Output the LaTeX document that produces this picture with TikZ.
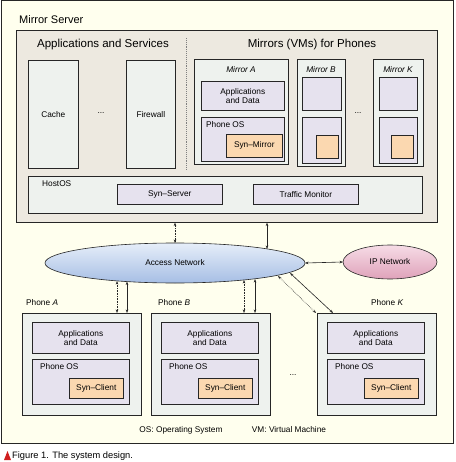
\documentclass[tikz,border=0pt]{standalone}
\usepackage{fontspec}
\setmainfont{Liberation Sans}
\usetikzlibrary{arrows.meta,shapes.geometric,calc}
\definecolor{bgyel}{HTML}{FFFFEE}
\definecolor{srvfill}{HTML}{EDE9E0}
\definecolor{boxfill}{HTML}{EEF2EE}
\definecolor{lav}{HTML}{E6E2EE}
\definecolor{peach}{HTML}{FBD8B0}
\definecolor{blueA}{HTML}{E6EEF9}
\definecolor{blueB}{HTML}{A6BEE4}
\definecolor{pinkA}{HTML}{F6DCE6}
\definecolor{pinkB}{HTML}{DFA2BA}
\definecolor{trired}{HTML}{D02020}
\tikzset{
  bx/.style={draw=black!85, line width=0.6pt, anchor=north west, inner sep=0pt, rectangle},
  gbox/.style={bx, fill=boxfill},
  lbox/.style={bx, fill=lav},
  sbox/.style={bx, fill=peach},
  small/.style={font=\fontsize{8.3}{9.5}\selectfont, inner sep=0pt},
  smalli/.style={font=\fontsize{8.3}{9.5}\selectfont\itshape, inner sep=0pt},
  big/.style={font=\fontsize{11.5}{13}\selectfont, inner sep=0pt},
  arr/.style={{Stealth[length=3.5pt,width=2.6pt]}-{Stealth[length=3.5pt,width=2.6pt]}, line width=0.6pt, black!85},
  darr/.style={arr, densely dotted},
}
\newcommand{\rbox}[6]{% style, name, x1, y1, x2, y2
  \node[#1, minimum width={(#5)-(#3)}, minimum height={(#6)-(#4)}] (#2) at (#3,#4) {};}
\begin{document}
\begin{tikzpicture}[x=1pt,y=-1pt]
\useasboundingbox (0,0) rectangle (455,462);
% outer frame
\node[bx, fill=bgyel, minimum width=452, minimum height=442] (outer) at (0.5,0.5) {};
\node[big, anchor=west, font=\fontsize{11}{13}\selectfont] (mstitle) at (19,20) {Mirror Server};
% server
\rbox{bx, fill=srvfill}{server}{16}{30}{437}{222}
\node[big] (appsvc) at (103,45) {Applications and Services};
\node[big] (mirtitle) at (312,45) {Mirrors (VMs) for Phones};
\draw[gray, line width=0.9pt, densely dotted] (186,38) -- (186,170);
% cache / firewall
\rbox{gbox}{cache}{28}{60}{78}{168}
\rbox{gbox}{fw}{126}{60}{175}{168}
\node[small] at (cache.center) {Cache};
\node[small] at (fw.center) {Firewall};
\node[small] (dots1) at (101,113) {...};
% Mirror A
\rbox{gbox}{mA}{194}{59}{288}{164}
\node[smalli] (mAl) at (241,70) {Mirror A};
\rbox{lbox}{mAapp}{201}{81}{284}{110}
\node[small, align=center] at (mAapp.center) {Applications\\and Data};
\rbox{lbox}{mAos}{201}{117}{284}{161}
\node[small, anchor=west] at (206,125) {Phone OS};
\rbox{sbox}{synm}{226}{134}{282}{157}
\node[small] at (synm.center) {Syn--Mirror};
% Mirror B
\rbox{gbox}{mB}{297}{59}{345}{166}
\node[smalli] (mBl) at (321,70) {Mirror B};
\rbox{lbox}{mBapp}{302}{77}{341}{110}
\rbox{lbox}{mBos}{302}{117}{341}{163}
\rbox{sbox}{mBs}{316}{135}{338}{158}
\node[small] (dots2) at (358,113) {...};
% Mirror K
\rbox{gbox}{mK}{373}{59}{423}{166}
\node[smalli] (mKl) at (398,70) {Mirror K};
\rbox{lbox}{mKapp}{379}{77}{417}{110}
\rbox{lbox}{mKos}{379}{117}{417}{163}
\rbox{sbox}{mKs}{391}{135}{413}{158}
% HostOS
\rbox{gbox}{host}{28}{176}{422}{213}
\node[small, anchor=west] at (42,184) {HostOS};
\rbox{lbox}{syns}{117}{184}{222}{204}
\node[small] at (syns.center) {Syn--Server};
\rbox{lbox}{tm}{253}{184}{358}{204}
\node[small] at (tm.center) {Traffic Monitor};
% networks
\node[ellipse, draw=black!85, line width=0.6pt, top color=blueA, bottom color=blueB, minimum width=260, minimum height=40, inner sep=0pt, outer sep=0pt] (acc) at (175,263) {};
\node[small] at (acc.center) {Access Network};
\node[ellipse, draw=black!85, line width=0.6pt, top color=pinkA, bottom color=pinkB, minimum width=94, minimum height=34, inner sep=0pt, outer sep=0pt] (ip) at (390,262) {};
\node[small] at (ip.center) {IP Network};
% phones
\foreach \n/\x/\lx/\lab in {pA/22/26/A, pB/151/158/B, pK/317/371/K}{
  \rbox{gbox}{\n}{\x}{313}{\x+119}{415}
  \node[small, anchor=west] (\n lab) at (\lx,303) {Phone \textit{\lab}};
  \rbox{lbox}{\n app}{\x+10}{322}{\x+107}{353}
  \node[small, align=center] at (\n app.center) {Applications\\and Data};
  \rbox{lbox}{\n os}{\x+10}{359}{\x+107}{404}
  \node[small, anchor=west] at (\x+18,367) {Phone OS};
  \rbox{sbox}{\n syn}{\x+47}{378}{\x+101}{398}
  \node[small] at (\n syn.center) {Syn--Client};
}
\node[small] (dots3) at (293,375) {...};
\node[small] (osn) at (181,430) {OS: Operating System};
\node[small] (vmn) at (289,430) {VM: Virtual Machine};
% connectors
\coordinate (accT2) at (267,249);
\coordinate (accA1) at (117,281);
\coordinate (accA2) at (127,281.5);
\coordinate (accB1) at (244,280);
\coordinate (accB2) at (255,279);
\coordinate (accK1) at (278,276);
\coordinate (accK2) at (290,273);
\draw[darr] (server.south -| acc.north) -- (acc.north);
\draw[arr] (server.south -| accT2) -- (accT2);
\draw[arr] (acc.east) -- (ip.west);
\draw[darr] (accA1) -- (pA.north -| accA1);
\draw[arr] (accA2) -- (pA.north -| accA2);
\draw[darr] (accB1) -- (pB.north -| accB1);
\draw[arr] (accB2) -- (pB.north -| accB2);
\draw[darr] (accK1) -- ($(pK.north west)+(-1,0)$);
\draw[arr] (accK2) -- ($(pK.north west)+(16,0)$);
% caption
\fill[trired] (4,460) -- (7.5,451) -- (11,460) -- cycle;
\node[anchor=west, inner sep=0pt, font=\fontsize{9.3}{11}\selectfont] (cap) at (12,456) {Figure 1. The system design.};
\end{tikzpicture}
\end{document}
